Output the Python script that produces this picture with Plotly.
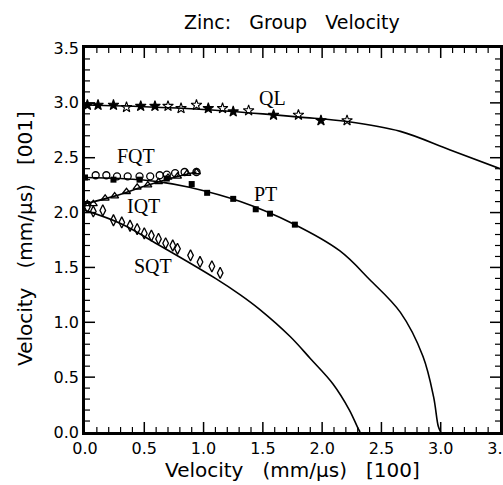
import plotly.graph_objects as go

# ---- fitted curves ----
ql_x = [0.0, 0.5, 1.0, 1.5, 1.81, 2.21, 2.66, 3.08, 3.5]
ql_y = [2.98, 2.965, 2.94, 2.90, 2.87, 2.83, 2.74, 2.57, 2.40]

pt_x = [0.0, 0.3, 0.63, 0.88, 1.31, 1.75, 2.15, 2.40, 2.66, 2.85, 2.94, 2.98, 3.0]
pt_y = [2.32, 2.31, 2.28, 2.23, 2.10, 1.90, 1.65, 1.39, 1.09, 0.69, 0.32, 0.05, 0.0]

sqt_x = [0.0, 0.3, 0.63, 1.10, 1.31, 1.47, 1.73, 1.90, 2.09, 2.23, 2.30, 2.32]
sqt_y = [2.02, 1.90, 1.70, 1.40, 1.25, 1.12, 0.87, 0.67, 0.44, 0.20, 0.04, 0.0]

iqt_x = [0.0, 0.25, 0.5, 0.75, 0.94]
iqt_y = [2.08, 2.15, 2.24, 2.32, 2.37]

# ---- measured points ----
ql_px = [0.02, 0.11, 0.24, 0.35, 0.47, 0.59, 0.70, 0.81, 0.94, 1.04, 1.16, 1.25, 1.38, 1.59, 1.80, 1.99, 2.21]
ql_py = [2.98, 2.98, 2.98, 2.96, 2.97, 2.97, 2.97, 2.95, 2.98, 2.95, 2.95, 2.92, 2.93, 2.89, 2.89, 2.84, 2.84]
ql_filled = [1, 1, 1, 0, 1, 1, 0, 0, 0, 1, 0, 1, 0, 1, 0, 1, 0]

fqt_px = [0.09, 0.18, 0.27, 0.36, 0.46, 0.55, 0.63, 0.69, 0.76, 0.84, 0.94]
fqt_py = [2.34, 2.34, 2.33, 2.33, 2.33, 2.33, 2.34, 2.345, 2.36, 2.37, 2.37]

iqt_px = [0.02, 0.07, 0.17, 0.25, 0.35, 0.44, 0.53, 0.62, 0.70, 0.78, 0.86, 0.94]
iqt_py = [2.08, 2.08, 2.13, 2.15, 2.19, 2.23, 2.25, 2.28, 2.32, 2.33, 2.355, 2.37]

pt_px = [0.0, 0.24, 0.46, 0.69, 0.90, 1.03, 1.25, 1.44, 1.56, 1.77]
pt_py = [2.32, 2.30, 2.30, 2.31, 2.26, 2.18, 2.125, 2.03, 1.99, 1.89]

sqt_px = [0.02, 0.07, 0.15, 0.24, 0.31, 0.38, 0.44, 0.50, 0.56, 0.62, 0.68, 0.74, 0.78, 0.89, 0.97, 1.07, 1.14]
sqt_py = [2.05, 2.01, 2.02, 1.93, 1.91, 1.88, 1.85, 1.81, 1.79, 1.76, 1.72, 1.70, 1.67, 1.61, 1.55, 1.51, 1.45]

labels = ["QL", "FQT", "IQT", "PT", "SQT"]
label_x = [1.58, 0.43, 0.49, 1.52, 0.57]
label_y = [3.04, 2.52, 2.06, 2.17, 1.51]

axis_min, axis_max = 0.0, 3.5
major_step = 0.5
minor_step = 0.1

W, H = 503, 485
L, R, T, B = 85, 500, 48, 432

fig = go.Figure()
line = dict(color="black", width=1.6, shape="spline", smoothing=1.0)
for cx, cy in [(ql_x, ql_y), (pt_x, pt_y), (sqt_x, sqt_y), (iqt_x, iqt_y)]:
    fig.add_trace(go.Scatter(x=cx, y=cy, mode="lines", line=line, hoverinfo="skip"))

fig.add_trace(go.Scatter(
    x=ql_px, y=ql_py, mode="markers",
    marker=dict(symbol=["star" if f else "star-open" for f in ql_filled], size=8,
                color="black", line=dict(color="black", width=1.1))))
fig.add_trace(go.Scatter(
    x=fqt_px, y=fqt_py, mode="markers",
    marker=dict(symbol="circle-open", size=7, color="black", line=dict(width=1.3))))
fig.add_trace(go.Scatter(
    x=iqt_px, y=iqt_py, mode="markers",
    marker=dict(symbol="triangle-up-open", size=7, color="black", line=dict(width=1.3))))
fig.add_trace(go.Scatter(
    x=pt_px, y=pt_py, mode="markers",
    marker=dict(symbol="square", size=6, color="black")))
fig.add_trace(go.Scatter(
    x=sqt_px, y=sqt_py, mode="markers",
    marker=dict(symbol="diamond-tall-open", size=8, color="black", line=dict(width=1.3))))

for t, lx, ly in zip(labels, label_x, label_y):
    fig.add_annotation(x=lx, y=ly, text=t, showarrow=False, xref="x", yref="y",
                       font=dict(family="Liberation Serif", size=20, color="black"))

# inside tick marks on all four sides, derived from the axis range and steps
ux = (axis_max - axis_min) / (R - L)   # data units per pixel, x
uy = (axis_max - axis_min) / (B - T)   # data units per pixel, y
n_minor = int(round((axis_max - axis_min) / minor_step))
per_major = int(round(major_step / minor_step))
for major in (True, False):
    ln = 10 if major else 5
    tx, ty = [], []
    for i in range(1, n_minor):
        if (i % per_major == 0) != major:
            continue
        v = axis_min + i * minor_step
        tx += [v, v, None, v, v, None]
        ty += [axis_min, axis_min + ln * uy, None, axis_max, axis_max - ln * uy, None]
        tx += [axis_min, axis_min + ln * ux, None, axis_max, axis_max - ln * ux, None]
        ty += [v, v, None, v, v, None]
    fig.add_trace(go.Scatter(x=tx, y=ty, mode="lines", hoverinfo="skip",
                             line=dict(color="black", width=1.5 if major else 1.2)))

axis_common = dict(
    range=[axis_min, axis_max], showgrid=False, zeroline=False, automargin=False,
    showline=True, linecolor="black", linewidth=2.5, mirror=True, ticks="",
    tickmode="linear", tick0=axis_min, dtick=major_step, tickformat=".1f",
    ticklabeloverflow="allow",
    tickfont=dict(family="DejaVu Sans", size=16, color="black"),
)
fig.update_xaxes(**axis_common)
fig.update_yaxes(**axis_common)

def px2paper(px, py):
    return (px - L) / (R - L), (B - py) / (B - T)

tx, ty = px2paper(292, 470)
fig.add_annotation(text="Velocity   (mm/μs)   [100]", x=tx, y=ty,
                   xref="paper", yref="paper", showarrow=False, yanchor="middle",
                   font=dict(family="DejaVu Sans", size=20, color="black"))
tx, ty = px2paper(25, 239)
fig.add_annotation(text="Velocity   (mm/μs)   [001]", x=tx, y=ty,
                   xref="paper", yref="paper", showarrow=False, textangle=-90,
                   xanchor="center", yanchor="middle",
                   font=dict(family="DejaVu Sans", size=20, color="black"))
tx, ty = px2paper(292, 22)
fig.add_annotation(text="Zinc:   Group   Velocity", x=tx, y=ty,
                   xref="paper", yref="paper", showarrow=False, yanchor="middle",
                   font=dict(family="DejaVu Sans", size=19, color="black"))

fig.update_layout(
    width=W, height=H, showlegend=False,
    margin=dict(l=L, r=W - R, t=T, b=H - B),
    plot_bgcolor="white", paper_bgcolor="white",
)
fig.write_html("out.html")
